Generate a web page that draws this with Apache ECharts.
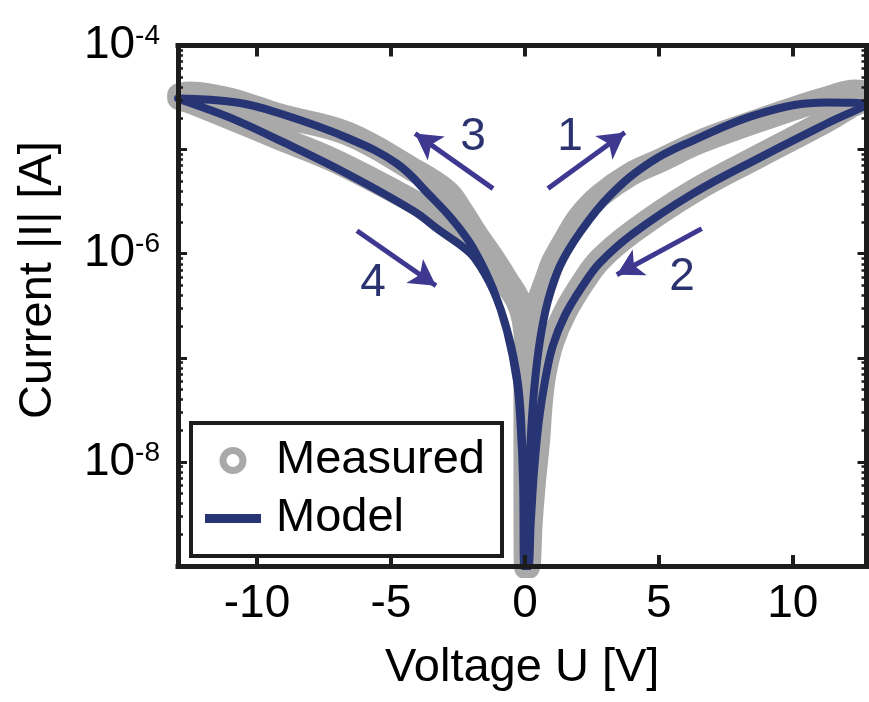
<!DOCTYPE html>
<html lang="en">
<head>
    <meta charset="UTF-8">
    <title>Current-voltage hysteresis</title>
    <script src="https://cdn.jsdelivr.net/npm/echarts@6.0.0/dist/echarts.min.js"></script>
    <style>
        html, body { margin: 0; padding: 0; background: #fff; }
        #main { width: 869px; height: 702px; }
    </style>
</head>
<body>
<div id="main"></div>

<script type="text/javascript">
    // values: [voltage V, current A]
    var measuredUp = [[0.07, 9.77e-10], [0.09, 4.22e-9], [0.13, 1.59e-8], [0.19, 6.01e-8], [0.30, 1.82e-7],
        [0.45, 3.16e-7], [0.56, 3.78e-7], [0.82, 5.75e-7], [1.04, 8.19e-7], [1.49, 1.33e-6], [2.05, 2.27e-6],
        [2.80, 3.61e-6], [3.92, 5.75e-6], [5.04, 7.83e-6], [6.53, 1.19e-5], [8.40, 1.78e-5], [10.26, 2.59e-5],
        [11.49, 3.24e-5], [12.31, 3.61e-5], [12.72, 3.45e-5]];
    var measuredDown = [[12.72, 3.24e-5], [12.13, 2.59e-5], [11.27, 1.90e-5], [8.77, 8.75e-6], [6.27, 3.95e-6],
        [4.03, 1.63e-6], [2.80, 8.75e-7], [2.16, 5.26e-7], [1.49, 2.71e-7], [1.04, 1.46e-7], [0.75, 7.50e-8],
        [0.60, 3.86e-8], [0.49, 1.59e-8], [0.34, 6.56e-9], [0.22, 2.71e-9], [0.11, 9.77e-10]];
    var measuredNegOut = [[0.04, 9.77e-10], [0.02, 6.56e-9], [0.02, 3.86e-8], [0.04, 1.46e-7], [-0.04, 2.54e-7],
        [-0.26, 3.69e-7], [-0.67, 5.50e-7], [-1.19, 8.95e-7], [-1.79, 1.49e-6], [-2.43, 2.71e-6], [-2.91, 3.95e-6],
        [-4.18, 6.43e-6], [-6.64, 1.43e-5], [-9.14, 2.12e-5], [-10.75, 2.90e-5], [-11.75, 3.30e-5],
        [-12.50, 3.45e-5], [-12.91, 3.30e-5]];
    var measuredNegBack = [[-12.91, 3.16e-5], [-12.50, 2.90e-5], [-11.38, 2.22e-5], [-9.14, 1.28e-5],
        [-7.28, 8.19e-6], [-5.41, 4.71e-6], [-3.54, 2.59e-6], [-2.54, 1.90e-6], [-1.79, 1.25e-6],
        [-1.19, 8.02e-7], [-0.67, 5.04e-7], [-0.26, 3.45e-7], [-0.04, 2.27e-7], [0.04, 1.30e-7],
        [0.04, 3.86e-8], [0.06, 6.56e-9], [0.07, 9.77e-10]];

    var modelUp = [[0.02, 9.77e-10], [0.07, 2.71e-9], [0.19, 1.28e-8], [0.34, 4.82e-8], [0.56, 1.46e-7],
        [0.86, 3.53e-7], [1.31, 7.67e-7], [2.05, 1.59e-6], [3.17, 3.61e-6], [4.66, 7.50e-6], [6.27, 1.22e-5],
        [8.77, 2.22e-5], [11.27, 2.83e-5], [12.72, 2.71e-5]];
    var modelDown = [[12.72, 2.71e-5], [11.27, 1.78e-5], [8.77, 8.38e-6], [6.27, 3.78e-6], [4.03, 1.56e-6],
        [2.80, 8.19e-7], [2.16, 4.92e-7], [1.49, 2.54e-7], [1.04, 1.30e-7], [0.75, 6.01e-8], [0.52, 2.48e-8],
        [0.34, 8.19e-9], [0.22, 2.71e-9], [0.11, 9.77e-10]];
    var modelNegOut = [[-0.02, 9.77e-10], [-0.07, 6.56e-9], [-0.15, 1.99e-8], [-0.30, 6.01e-8], [-0.67, 1.82e-7],
        [-1.19, 4.60e-7], [-1.94, 1.14e-6], [-2.69, 2.10e-6], [-3.54, 3.61e-6], [-4.78, 7.33e-6],
        [-6.64, 1.30e-5], [-9.14, 2.22e-5], [-10.75, 2.83e-5], [-12.95, 3.09e-5]];
    var modelNegBack = [[-12.95, 3.09e-5], [-12.01, 2.54e-5], [-10.75, 1.90e-5], [-9.14, 1.22e-5],
        [-6.64, 5.87e-6], [-4.18, 2.59e-6], [-3.17, 1.66e-6], [-2.43, 1.22e-6], [-1.87, 9.00e-7],
        [-1.16, 4.31e-7], [-0.63, 1.70e-7], [-0.26, 5.62e-8], [-0.11, 1.59e-8], [0.00, 9.77e-10]];

    // sweep arrows: [tail, tip] and their numbers
    var arrows = [
        [[0.86, 4.22e-6], [3.73, 1.46e-5]],
        [[6.60, 1.74e-6], [3.43, 6.28e-7]],
        [[-1.19, 4.22e-6], [-4.10, 1.43e-5]],
        [[-6.27, 1.66e-6], [-3.32, 4.92e-7]]
    ];
    var arrowNames = ['1', '2', '3', '4'];
    var arrowLabelPos = [[1.68, 1.30e-5], [5.86, 5.87e-7], [-1.94, 1.30e-5], [-5.67, 5.15e-7]];

    var xTicks = [-10, -5, 0, 5, 10];
    var yLabelTicks = [1e-8, 1e-6, 1e-4];
    var yDecades = [-9, -8, -7, -6, -5, -4];
    var yMinor = [];
    yDecades.slice(0, 5).forEach(function (d) {
        for (var k = 2; k <= 9; k++) yMinor.push(d + Math.log10(k));
    });

    var FONT = '"Liberation Sans", Arial, sans-serif';
    var FRAME = '#1c1c1c';
    var GREY = '#a9a9a9';
    var NAVY = '#283574';

    var myChart = echarts.init(document.getElementById('main'));

    function tickAxis(pos, values, len, width, showLine) {
        return {
            type: 'value', position: pos, min: -9, max: -4, z: 10,
            axisLine: {show: showLine, onZero: false, lineStyle: {color: FRAME, width: 5, cap: 'square'}},
            axisTick: {show: true, inside: true, length: len, customValues: values,
                lineStyle: {color: FRAME, width: width}},
            axisLabel: {show: false},
            splitLine: {show: false}
        };
    }

    var option = {
        animation: false,
        grid: {left: 178, right: 2.5, top: 45.5, bottom: 136},
        legend: {
            left: 191, top: 423, orient: 'vertical',
            padding: [14, 17, 14, 14], itemGap: 11, itemWidth: 56, itemHeight: 20,
            borderColor: FRAME, borderWidth: 4, backgroundColor: '#fff',
            selectedMode: false,
            textStyle: {fontSize: 47, lineHeight: 46, color: '#000', fontFamily: FONT, padding: [0, 0, 0, 10]},
            data: [
                {name: 'Measured', icon: 'circle',
                    itemStyle: {color: 'rgba(0,0,0,0)', borderColor: GREY, borderWidth: 7}},
                {name: 'Model', icon: 'path://M0,0H56V9H0Z', itemStyle: {color: NAVY}}
            ]
        },
        graphic: [{
            type: 'text', x: 38, y: 280, rotation: Math.PI / 2,
            style: {text: 'Current |I| [A]', font: '47px ' + FONT, fill: '#000',
                textAlign: 'center', textVerticalAlign: 'middle'}
        }],
        xAxis: [
            {
                type: 'value', position: 'bottom', min: -12.95, max: 12.75, z: 10,
                name: 'Voltage U [V]', nameLocation: 'middle', nameGap: 79,
                nameTextStyle: {fontSize: 47, color: '#000', fontFamily: FONT},
                axisLine: {show: true, onZero: false, lineStyle: {color: FRAME, width: 5, cap: 'square'}},
                axisTick: {show: true, inside: true, length: 11, customValues: xTicks,
                    lineStyle: {color: FRAME, width: 4}},
                axisLabel: {customValues: xTicks, fontSize: 46, color: '#000', fontFamily: FONT, margin: 15},
                splitLine: {show: false}
            },
            {
                type: 'value', position: 'top', min: -12.95, max: 12.75, z: 10,
                axisLine: {show: true, onZero: false, lineStyle: {color: FRAME, width: 5, cap: 'square'}},
                axisTick: {show: true, inside: true, length: 11, customValues: xTicks,
                    lineStyle: {color: FRAME, width: 4}},
                axisLabel: {show: false},
                splitLine: {show: false}
            }
        ],
        yAxis: [
            {
                type: 'log', logBase: 10, min: 1e-9, max: 1e-4, position: 'left', z: 10,
                axisLine: {show: true, onZero: false, lineStyle: {color: FRAME, width: 5, cap: 'square'}},
                axisTick: {show: false},
                axisLabel: {
                    margin: 18, color: '#000',
                    formatter: function (v) {
                        var e = Math.round(Math.log10(v));
                        var hit = yLabelTicks.some(function (t) { return Math.round(Math.log10(t)) === e; });
                        return hit ? '{b|10}{s|' + e + '}' : '';
                    },
                    rich: {
                        b: {fontSize: 46, fontFamily: FONT, color: '#000', lineHeight: 46},
                        s: {fontSize: 28, fontFamily: FONT, color: '#000', verticalAlign: 'top', lineHeight: 28}
                    }
                },
                splitLine: {show: false}
            },
            tickAxis('left', yDecades, 9, 3, false),
            tickAxis('left', yMinor, 5, 2.5, false),
            tickAxis('right', yDecades, 9, 3, true),
            tickAxis('right', yMinor, 5, 2.5, false)
        ],
        series: [
            {
                name: 'Measured', type: 'line', smooth: 0.4, symbol: 'none',
                data: [].concat(measuredUp, measuredDown, measuredNegOut, measuredNegBack),
                lineStyle: {color: GREY, width: 24, cap: 'round', join: 'round'},
                itemStyle: {color: GREY},
                z: 2
            },
            {
                name: 'Model', type: 'line', smooth: 0.4, symbol: 'none',
                data: [].concat(modelUp, modelDown, modelNegOut, modelNegBack),
                lineStyle: {color: NAVY, width: 8, cap: 'round', join: 'round'},
                itemStyle: {color: NAVY},
                z: 3
            },
            {
                name: 'arrows', type: 'line', data: [], symbol: 'none',
                markLine: {
                    silent: true, symbol: ['none', 'arrow'], symbolSize: [22, 26],
                    label: {show: false},
                    lineStyle: {color: '#3f3891', width: 5, type: 'solid', opacity: 1},
                    data: arrows.map(function (a) {
                        return [{coord: a[0]}, {coord: a[1]}];
                    })
                }
            },
            {
                name: 'numbers', type: 'scatter', symbolSize: 1, silent: true,
                itemStyle: {color: 'rgba(0,0,0,0)', opacity: 1},
                label: {show: true, position: 'inside', formatter: '{b}', opacity: 1,
                    fontSize: 46, fontFamily: FONT, color: '#2b3270'},
                data: arrowLabelPos.map(function (p, i) {
                    return {name: arrowNames[i], value: p};
                })
            }
        ]
    };

    myChart.setOption(option);
</script>
</body>
</html>
